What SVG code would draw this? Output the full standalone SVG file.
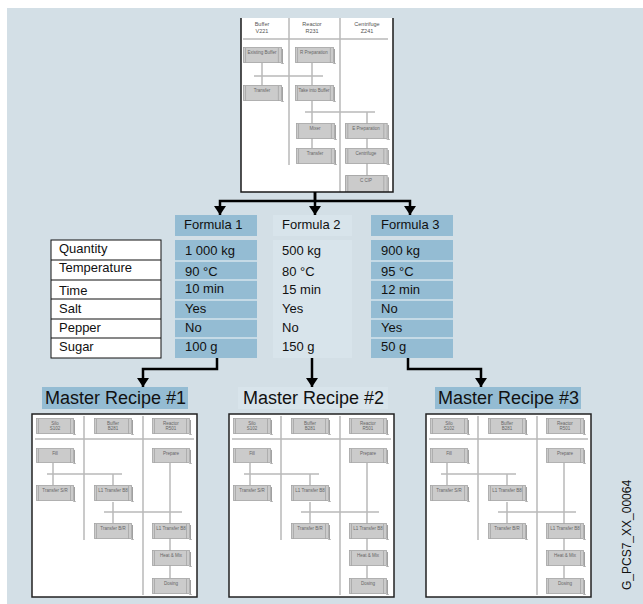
<svg xmlns="http://www.w3.org/2000/svg" xmlns:xlink="http://www.w3.org/1999/xlink" width="643" height="604" viewBox="0 0 643 604">
<style>
text{font-family:"Liberation Sans",Arial,sans-serif}
.t{font-size:13px;fill:#111}
.mr{font-size:18px;fill:#111}
.tiny{font-size:4.5px;fill:#666;text-anchor:middle}
.hd{font-size:5.5px;fill:#555;text-anchor:middle}
.tl{stroke:#b8b8b8;stroke-width:1.5;fill:none}
.conn{stroke:#000;stroke-width:2.5;fill:none}
.f1{fill:#94bcd3}
.f2{fill:#d8e4eb}
.sep{stroke:#d6e4ec;stroke-width:1.3}
.lab{fill:#fff;stroke:#111;stroke-width:1}
.box{fill:#fff;stroke:#222;stroke-width:1.5}
</style>
<defs>
<marker id="ah" markerUnits="userSpaceOnUse" markerWidth="11" markerHeight="12" refX="9" refY="6" orient="auto" viewBox="0 0 9 12">
<path d="M0,0 L9,6 L0,12 z" fill="#000"/>
</marker>
<symbol id="sb" viewBox="0 0 40 17" preserveAspectRatio="none">
<rect x="0.5" y="0.5" width="37" height="15" fill="#cbcbcb" stroke="#a3a3a3" stroke-width="0.8"/>
<line x1="2.5" y1="1" x2="2.5" y2="15.5" stroke="#999" stroke-width="0.6"/>
<line x1="34.5" y1="1" x2="34.5" y2="15.5" stroke="#999" stroke-width="0.6"/>
<line x1="38.5" y1="2" x2="38.5" y2="16.5" stroke="#888" stroke-width="0.8"/>
<line x1="37" y1="16.5" x2="40" y2="16.5" stroke="#999" stroke-width="0.6"/>
</symbol>
<g id="mrc">
<line class="tl" x1="84" y1="416" x2="84" y2="540"/>
<line class="tl" x1="143" y1="416" x2="143" y2="595"/>
<line class="tl" x1="35" y1="439" x2="194" y2="439"/>
<line class="tl" x1="53" y1="463" x2="53" y2="485"/>
<line class="tl" x1="47" y1="474" x2="122" y2="474"/>
<line class="tl" x1="113" y1="474" x2="113" y2="485"/>
<line class="tl" x1="113" y1="502" x2="113" y2="523"/>
<line class="tl" x1="104" y1="512" x2="182" y2="512"/>
<line class="tl" x1="170" y1="463" x2="170" y2="578"/>
<use xlink:href="#sb" x="36" y="418" width="40" height="17"/>
<use xlink:href="#sb" x="94" y="418" width="40" height="17"/>
<use xlink:href="#sb" x="152" y="418" width="40" height="17"/>
<use xlink:href="#sb" x="36" y="448" width="40" height="16"/>
<use xlink:href="#sb" x="152" y="448" width="40" height="16"/>
<use xlink:href="#sb" x="36" y="485" width="40" height="17"/>
<use xlink:href="#sb" x="94" y="485" width="40" height="17"/>
<use xlink:href="#sb" x="94" y="523" width="40" height="17"/>
<use xlink:href="#sb" x="152" y="523" width="40" height="17"/>
<use xlink:href="#sb" x="152" y="550" width="40" height="17"/>
<use xlink:href="#sb" x="152" y="578" width="40" height="17"/>
<text class="tiny" x="55" y="425">Silo</text><text class="tiny" x="55" y="430">S102</text>
<text class="tiny" x="113" y="425">Buffer</text><text class="tiny" x="113" y="430">B281</text>
<text class="tiny" x="171" y="425">Reactor</text><text class="tiny" x="171" y="430">R501</text>
<text class="tiny" x="55" y="455">Fill</text>
<text class="tiny" x="171" y="455">Prepare</text>
<text class="tiny" x="55" y="492">Transfer S/R</text>
<text class="tiny" x="113" y="492">L1 Transfer B8</text>
<text class="tiny" x="113" y="530">Transfer B/R</text>
<text class="tiny" x="171" y="530">L1 Transfer B8</text>
<text class="tiny" x="171" y="557">Heat &amp; Mix</text>
<text class="tiny" x="171" y="585">Dosing</text>
</g>
<clipPath id="topclip"><rect x="241" y="18" width="152" height="174"/></clipPath>
</defs>

<rect x="7" y="8" width="636" height="596" fill="#d3dfe6"/>

<g id="control-recipe">
<rect x="241" y="18" width="152" height="174" fill="#fff"/>
<g clip-path="url(#topclip)">
<text class="hd" x="262" y="26">Buffer</text><text class="hd" x="262" y="33">V221</text>
<text class="hd" x="312" y="26">Reactor</text><text class="hd" x="312" y="33">R231</text>
<text class="hd" x="367" y="26">Centrifuge</text><text class="hd" x="367" y="33">Z241</text>
<line class="tl" x1="243" y1="39" x2="388" y2="39"/>
<line class="tl" x1="289" y1="18" x2="289" y2="165"/>
<line class="tl" x1="340" y1="18" x2="340" y2="192"/>
<line class="tl" x1="262" y1="63" x2="262" y2="85"/>
<line class="tl" x1="312" y1="63" x2="312" y2="85"/>
<line class="tl" x1="254" y1="76" x2="323" y2="76"/>
<line class="tl" x1="312" y1="101" x2="312" y2="148"/>
<line class="tl" x1="305" y1="112" x2="375" y2="112"/>
<line class="tl" x1="367" y1="112" x2="367" y2="176"/>
<use xlink:href="#sb" x="243" y="47" width="41" height="17"/>
<use xlink:href="#sb" x="295" y="47" width="41" height="17"/>
<use xlink:href="#sb" x="243" y="85" width="41" height="17"/>
<use xlink:href="#sb" x="295" y="85" width="41" height="17"/>
<use xlink:href="#sb" x="296" y="123" width="41" height="17"/>
<use xlink:href="#sb" x="345" y="123" width="45" height="17"/>
<use xlink:href="#sb" x="296" y="148" width="41" height="17"/>
<use xlink:href="#sb" x="345" y="148" width="45" height="17"/>
<use xlink:href="#sb" x="345" y="175" width="45" height="19"/>
<text class="tiny" x="262" y="54">Existing Buffer</text>
<text class="tiny" x="314" y="54">R Preparation</text>
<text class="tiny" x="262" y="92">Transfer</text>
<text class="tiny" x="314" y="92">Take into Buffer</text>
<text class="tiny" x="315" y="130">Mixer</text>
<text class="tiny" x="366" y="130">E Preparation</text>
<text class="tiny" x="315" y="155">Transfer</text>
<text class="tiny" x="366" y="155">Centrifuge</text>
<text class="tiny" x="366" y="182">C CIP</text>
</g>
<path d="M241,18 V192 H393 V18" fill="none" stroke="#1a1a1a" stroke-width="1.5"/>
</g>

<g id="labels">
<rect class="lab" x="51" y="240" width="110" height="118"/>
<line stroke="#111" x1="51" y1="260" x2="161" y2="260"/>
<line stroke="#111" x1="51" y1="280" x2="161" y2="280"/>
<line stroke="#111" x1="51" y1="299" x2="161" y2="299"/>
<line stroke="#111" x1="51" y1="319" x2="161" y2="319"/>
<line stroke="#111" x1="51" y1="338" x2="161" y2="338"/>
<text class="t" x="59" y="253">Quantity</text>
<text class="t" x="59" y="272">Temperature</text>
<text class="t" x="59" y="295">Time</text>
<text class="t" x="59" y="313">Salt</text>
<text class="t" x="59" y="332">Pepper</text>
<text class="t" x="59" y="351">Sugar</text>
</g>

<g id="formula-1">
<rect class="f1" x="175" y="215" width="82" height="21"/>
<rect class="f1" x="175" y="240" width="82" height="118"/>
<line class="sep" x1="175" y1="261" x2="257" y2="261"/>
<line class="sep" x1="175" y1="280" x2="257" y2="280"/>
<line class="sep" x1="175" y1="300" x2="257" y2="300"/>
<line class="sep" x1="175" y1="319" x2="257" y2="319"/>
<line class="sep" x1="175" y1="338" x2="257" y2="338"/>
<text class="t" x="184" y="229">Formula 1</text>
<text class="t" x="185" y="255">1 000 kg</text>
<text class="t" x="185" y="276">90 °C</text>
<text class="t" x="185" y="293">10 min</text>
<text class="t" x="185" y="313">Yes</text>
<text class="t" x="185" y="332">No</text>
<text class="t" x="185" y="351">100 g</text>
</g>

<g id="formula-2">
<rect class="f2" x="273" y="215" width="79" height="21"/>
<rect class="f2" x="273" y="240" width="79" height="118"/>
<text class="t" x="282" y="229">Formula 2</text>
<text class="t" x="282" y="255">500 kg</text>
<text class="t" x="282" y="276">80 °C</text>
<text class="t" x="282" y="294">15 min</text>
<text class="t" x="282" y="313">Yes</text>
<text class="t" x="282" y="332">No</text>
<text class="t" x="282" y="351">150 g</text>
</g>

<g id="formula-3">
<rect class="f1" x="371" y="215" width="82" height="21"/>
<rect class="f1" x="371" y="240" width="82" height="118"/>
<line class="sep" x1="371" y1="261" x2="453" y2="261"/>
<line class="sep" x1="371" y1="280" x2="453" y2="280"/>
<line class="sep" x1="371" y1="300" x2="453" y2="300"/>
<line class="sep" x1="371" y1="319" x2="453" y2="319"/>
<line class="sep" x1="371" y1="338" x2="453" y2="338"/>
<text class="t" x="381" y="229">Formula 3</text>
<text class="t" x="381" y="255">900 kg</text>
<text class="t" x="381" y="276">95 °C</text>
<text class="t" x="381" y="294">12 min</text>
<text class="t" x="381" y="313">No</text>
<text class="t" x="381" y="332">Yes</text>
<text class="t" x="381" y="351">50 g</text>
</g>

<g id="master-recipe-1">
<rect class="f1" x="42" y="387" width="146" height="22"/>
<text class="mr" x="45" y="404">Master Recipe #1</text>
<rect class="box" x="32" y="414" width="165" height="183"/>
<use xlink:href="#mrc"/>
</g>

<g id="master-recipe-2">
<rect class="f2" x="238" y="387" width="150" height="22"/>
<text class="mr" x="243" y="404">Master Recipe #2</text>
<rect class="box" x="229" y="414" width="165" height="183"/>
<use xlink:href="#mrc" transform="translate(197,0)"/>
</g>

<g id="master-recipe-3">
<rect class="f1" x="435" y="387" width="146" height="22"/>
<text class="mr" x="438" y="404">Master Recipe #3</text>
<rect class="box" x="426" y="414" width="165" height="183"/>
<use xlink:href="#mrc" transform="translate(394,0)"/>
</g>

<g id="connectors">
<path class="conn" d="M315,192 V201 H220 V215" marker-end="url(#ah)"/>
<path class="conn" d="M315,192 V215" marker-end="url(#ah)"/>
<path class="conn" d="M315,201 H410 V215" marker-end="url(#ah)"/>
<path class="conn" d="M217,358 V369 H143 V387" marker-end="url(#ah)"/>
<path class="conn" d="M312,358 V387" marker-end="url(#ah)"/>
<path class="conn" d="M408,358 V369 H481 V387" marker-end="url(#ah)"/>
</g>

<text x="0" y="0" font-size="12" fill="#111" transform="translate(631,590) rotate(-90)">G_PCS7_XX_00064</text>
</svg>
